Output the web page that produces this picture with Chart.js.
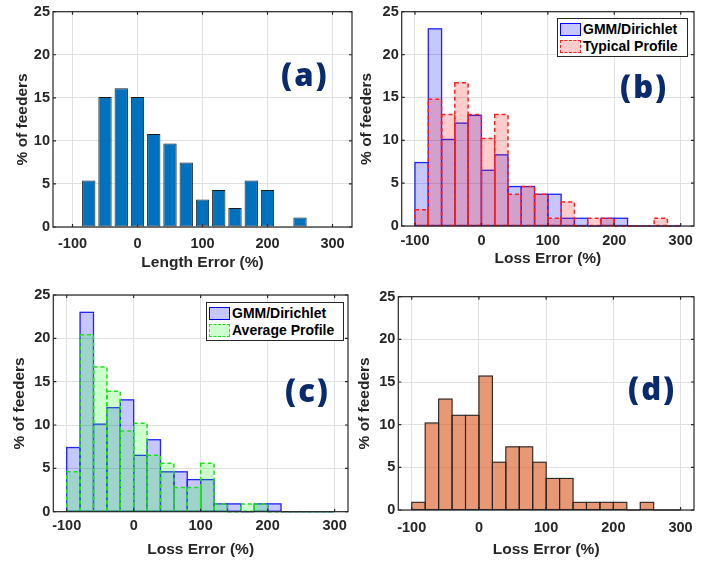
<!DOCTYPE html>
<html lang="en">
<head>
<meta charset="UTF-8">
<title>Feeder error histograms</title>
<script src="https://cdn.jsdelivr.net/npm/chart.js"></script>
<style>
    body { margin: 0; background: #fff; }
    #wrap { position: relative; width: 717px; height: 566px; overflow: hidden; }
    #wrap canvas { position: absolute; }
    .tag {
        position: absolute;
        font-family: "Open Sans", sans-serif;
        font-weight: 800;
        font-size: 31px;
        line-height: 1;
        letter-spacing: 2px;
        color: #0a2a6e;
    }
    .legend {
        position: absolute;
        background: #fff;
        border: 1px solid #262626;
        font: bold 14px "Liberation Sans", Arial, sans-serif;
        color: #000;
        padding: 2px 3px 1px 2px;
    }
    .legend div { height: 17px; line-height: 17px; white-space: nowrap; }
    .sw {
        display: inline-block;
        width: 19px;
        height: 11px;
        vertical-align: -2px;
        margin-right: 2px;
    }
</style>
</head>
<body>
<div id="wrap">
    <canvas id="chartA" width="358" height="283" style="left:0;top:0"></canvas>
    <canvas id="chartB" width="362" height="283" style="left:355px;top:0"></canvas>
    <canvas id="chartC" width="358" height="283" style="left:0;top:283px"></canvas>
    <canvas id="chartD" width="362" height="283" style="left:355px;top:283px"></canvas>

    <div class="tag" style="left:281px;top:59px">(a)</div>
    <div class="tag" style="left:620px;top:71px">(b)</div>
    <div class="tag" style="left:285px;top:375px">(c)</div>
    <div class="tag" style="left:628px;top:373px">(d)</div>

    <div class="legend" style="left:557px;top:18px;width:124px">
        <div><span class="sw" style="background:rgba(0,0,255,0.22);border:1.5px solid #0000ff"></span>GMM/Dirichlet</div>
        <div><span class="sw" style="background:rgba(255,0,0,0.2);border:1.5px dashed #ff2020"></span>Typical Profile</div>
    </div>
    <div class="legend" style="left:206px;top:302px;width:131px">
        <div><span class="sw" style="background:rgba(0,0,255,0.22);border:1.5px solid #0000ff"></span>GMM/Dirichlet</div>
        <div><span class="sw" style="background:rgba(0,255,0,0.2);border:1.5px dashed #20e020"></span>Average Profile</div>
    </div>
</div>

<script>
    // ---- data (% of feeders) ----
    const yTicks = [0, 5, 10, 15, 20, 25];
    const xTicks = [-100, 0, 100, 200, 300];

    // (a) length error, 25% bins
    const lengthCenters = [-75, -50, -25, 0, 25, 50, 75, 100, 125, 150, 175, 200, 225, 250];
    const lengthPct = [5.4, 15.1, 16.1, 15.1, 10.8, 9.7, 7.5, 3.2, 4.3, 2.2, 5.4, 4.3, 0, 1.1];

    // (b)-(d) loss error, 20% bins
    const lossCenters = [-90, -70, -50, -30, -10, 10, 30, 50, 70, 90, 110, 130, 150, 170, 190, 210, 230, 250, 270, 290];
    const gmmPct     = [7.4, 23.0, 10.1, 12.0, 12.9, 6.5, 8.3, 4.6, 4.6, 3.7, 3.7, 0.9, 0.9, 0, 0.9, 0.9, 0, 0, 0, 0];
    const typicalPct = [1.9, 14.8, 13.0, 16.7, 13.0, 10.2, 13.0, 3.7, 4.6, 3.7, 0.9, 2.8, 0, 0.9, 0.9, 0, 0, 0, 0.9, 0];
    const averagePct = [4.6, 20.4, 16.7, 13.9, 9.3, 10.2, 6.5, 5.6, 2.8, 2.8, 5.6, 0.9, 0, 0.9, 0.9, 0, 0, 0, 0, 0];
    const panelDPct  = [0.9, 10.2, 13.0, 11.1, 11.1, 15.7, 5.6, 7.4, 7.4, 5.6, 3.7, 3.7, 0.9, 0.9, 0.9, 0.9, 0, 0.9, 0, 0];

    Chart.defaults.font.family = '"Liberation Sans", Arial, sans-serif';
    Chart.defaults.font.weight = 'bold';
    Chart.defaults.color = '#262626';

    const toPoints = (xs, ys) => xs.map((x, i) => ({ x: x, y: ys[i] }));

    // axes box with inward ticks like the original figure
    const boxPlugin = {
        id: 'box',
        afterDraw(chart) {
            const { ctx, chartArea: a, scales } = chart;
            ctx.save();
            ctx.strokeStyle = '#262626';
            ctx.lineWidth = 1.2;
            ctx.strokeRect(a.left, a.top, a.right - a.left, a.bottom - a.top);
            ctx.beginPath();
            xTicks.forEach(v => {
                const px = scales.x.getPixelForValue(v);
                ctx.moveTo(px, a.bottom); ctx.lineTo(px, a.bottom - 3);
                ctx.moveTo(px, a.top); ctx.lineTo(px, a.top + 3);
            });
            yTicks.forEach(v => {
                const py = scales.y.getPixelForValue(v);
                ctx.moveTo(a.left, py); ctx.lineTo(a.left + 3, py);
                ctx.moveTo(a.right, py); ctx.lineTo(a.right - 3, py);
            });
            ctx.stroke();
            ctx.restore();
        }
    };

    // histogram edges drawn on the bin boundaries (shared edges, optional dashes)
    const outlinePlugin = {
        id: 'binOutline',
        afterDatasetDraw(chart, args) {
            const ds = chart.data.datasets[args.index];
            if (!ds.outlineColor) return;
            const ctx = chart.ctx;
            ctx.save();
            ctx.strokeStyle = ds.outlineColor;
            ctx.lineWidth = ds.outlineWidth || 1;
            ctx.setLineDash(ds.outlineDash || []);
            args.meta.data.forEach(el => {
                const p = el.getProps(['x', 'y', 'base', 'width'], true);
                const left = p.x - p.width / 2;
                if (Math.abs(p.base - p.y) < 0.5) {
                    ctx.beginPath();
                    ctx.moveTo(left, p.base);
                    ctx.lineTo(left + p.width, p.base);
                    ctx.stroke();
                    return;
                }
                ctx.strokeRect(left, p.y, p.width, p.base - p.y);
            });
            ctx.restore();
        }
    };

    function makeChart(id, datasets, cfg) {
        new Chart(document.getElementById(id), {
            type: 'bar',
            data: { datasets: datasets },
            options: {
                responsive: false,
                animation: false,
                layout: { padding: { left: 0, top: cfg.padTop, right: cfg.padRight, bottom: 0 } },
                plugins: { legend: { display: false }, tooltip: { enabled: false } },
                scales: {
                    x: {
                        type: 'linear',
                        min: cfg.xMin, max: cfg.xMax,
                        offset: false,
                        afterBuildTicks: s => { s.ticks = xTicks.map(v => ({ value: v })); },
                        afterFit: s => { s.height = cfg.xHeight; },
                        ticks: { font: { size: 14.5 }, padding: cfg.xTickPad, color: '#262626' },
                        grid: { color: '#e0e0e0', drawTicks: false, offset: false },
                        border: { display: false },
                        title: {
                            display: true, text: cfg.xTitle, color: '#262626',
                            font: { size: 15.5 }, padding: { top: 0, bottom: cfg.xTitlePad }
                        }
                    },
                    y: {
                        min: 0, max: 25,
                        afterBuildTicks: s => { s.ticks = yTicks.map(v => ({ value: v })); },
                        afterFit: s => { s.width = cfg.yWidth; },
                        ticks: { font: { size: 14.5 }, padding: 3, color: '#262626' },
                        grid: { color: '#e0e0e0', drawTicks: false },
                        border: { display: false },
                        title: {
                            display: true, text: '% of feeders', color: '#262626',
                            font: { size: 15.5 }, padding: { top: cfg.yTitlePad, bottom: 0 }
                        }
                    }
                }
            },
            plugins: [outlinePlugin, boxPlugin]
        });
    }

    const histBase = {
        borderWidth: 0,
        barPercentage: 1, categoryPercentage: 1,
        grouped: false
    };

    const gmmSet = () => Object.assign({}, histBase, {
        data: toPoints(lossCenters, gmmPct),
        backgroundColor: 'rgba(0,0,255,0.22)',
        outlineColor: '#2222ff',
        outlineWidth: 1.3,
        order: 2
    });

    // (a)
    makeChart('chartA', [{
        data: toPoints(lengthCenters, lengthPct),
        backgroundColor: '#0072bd',
        borderColor: '#1c1c1c',
        borderWidth: 1,
        borderSkipped: false,
        barPercentage: 0.82, categoryPercentage: 1
    }], { xMin: -130, xMax: 330, padTop: 7, padRight: 6, xHeight: 56, yWidth: 53,
          xTickPad: 8.5, xTitle: 'Length Error (%)', xTitlePad: 10.7, yTitlePad: 13.7 });

    // (b)
    makeChart('chartB', [gmmSet(), Object.assign({}, histBase, {
        data: toPoints(lossCenters, typicalPct),
        backgroundColor: 'rgba(255,0,0,0.2)',
        outlineColor: '#ff2020',
        outlineWidth: 1.5,
        outlineDash: [4, 3],
        order: 1
    })], { xMin: -120, xMax: 320, padTop: 11, padRight: 23, xHeight: 57, yWidth: 46.7,
          xTickPad: 6.5, xTitle: 'Loss Error (%)', xTitlePad: 14.7, yTitlePad: 2.2 });

    // (c)
    makeChart('chartC', [gmmSet(), Object.assign({}, histBase, {
        data: toPoints(lossCenters, averagePct),
        backgroundColor: 'rgba(0,255,0,0.2)',
        outlineColor: '#20e020',
        outlineWidth: 1.5,
        outlineDash: [4, 3],
        order: 1
    })], { xMin: -120, xMax: 320, padTop: 12, padRight: 10, xHeight: 54.3, yWidth: 53.3,
          xTickPad: 6, xTitle: 'Loss Error (%)', xTitlePad: 6.7, yTitlePad: 10.7 });

    // (d)
    makeChart('chartD', [Object.assign({}, histBase, {
        data: toPoints(lossCenters, panelDPct),
        backgroundColor: 'rgba(217,83,25,0.6)',
        outlineColor: '#262626',
        outlineWidth: 1.1
    })], { xMin: -120, xMax: 320, padTop: 13.7, padRight: 23, xHeight: 56, yWidth: 43.3,
          xTickPad: 9, xTitle: 'Loss Error (%)', xTitlePad: 6.7, yTitlePad: 0.7 });
</script>
</body>
</html>
